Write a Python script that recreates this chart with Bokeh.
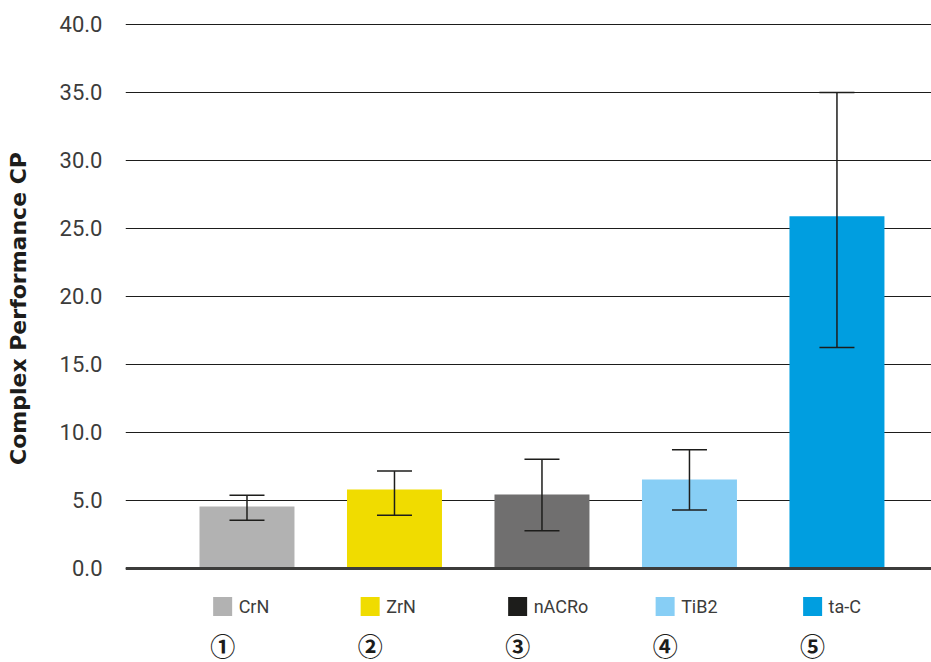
from bokeh.plotting import figure
from bokeh.models import Range1d, FixedTicker, PrintfTickFormatter, Whisker, TeeHead, Span, ColumnDataSource
from bokeh.layouts import column
from bokeh.embed import file_html
from bokeh.resources import INLINE
from bokeh.core.properties import value

# ---- data ----
categories = ["CrN", "ZrN", "nACRo", "TiB2", "ta-C"]
cp_mean = [4.56, 5.81, 5.44, 6.54, 25.9]
cp_lower = [3.55, 3.92, 2.77, 4.31, 16.25]
cp_upper = [5.39, 7.16, 8.04, 8.73, 35.0]
bar_colors = ["#b2b2b2", "#f0dc00", "#706f6f", "#87cef5", "#009ee0"]
legend_colors = ["#b2b2b2", "#f0dc00", "#1d1d1b", "#87cef5", "#009ee0"]
markers = ["\u2460", "\u2461", "\u2462", "\u2463", "\u2464"]
y_ticks = [0, 5, 10, 15, 20, 25, 30, 35, 40]

xs = list(range(len(categories)))
x_range = Range1d(-0.8237, 4.641)

# ---- main chart ----
p = figure(width=931, height=594, x_range=x_range, y_range=Range1d(-1.912, 40.147),
           output_backend="svg", toolbar_location=None, x_axis_location=None,
           min_border_left=125, min_border_right=0, min_border_top=22, min_border_bottom=0)
p.outline_line_color = None
p.xgrid.visible = False

ax = p.yaxis[0]
ax.ticker = FixedTicker(ticks=y_ticks)
ax.formatter = PrintfTickFormatter(format="%.1f")
ax.major_tick_line_color = None
ax.minor_tick_line_color = None
ax.major_tick_in = 0
ax.major_tick_out = 0
ax.minor_tick_in = 0
ax.minor_tick_out = 0
ax.axis_line_color = None
ax.major_label_text_font = "Roboto"
ax.major_label_text_font_size = "22px"
ax.major_label_text_color = "#3c3c3b"
ax.major_label_standoff = 23
ax.axis_label = "Complex Performance CP"
ax.axis_label_text_font = "DejaVu Sans"
ax.axis_label_text_font_style = "bold"
ax.axis_label_text_font_size = "22px"
ax.axis_label_text_color = "#1d1d1b"
ax.axis_label_standoff = 26

p.ygrid.grid_line_color = "#1d1d1b"
p.ygrid.grid_line_width = 1.2

p.vbar(x=xs, top=cp_mean, bottom=0, width=0.644, fill_color=bar_colors, line_color=None)

src = ColumnDataSource(dict(x=xs, lower=cp_lower, upper=cp_upper))
p.add_layout(Whisker(base="x", lower="lower", upper="upper", source=src, level="overlay",
                     line_color="#1d1d1b", line_width=1.5,
                     upper_head=TeeHead(size=35, line_color="#1d1d1b", line_width=1.5),
                     lower_head=TeeHead(size=35, line_color="#1d1d1b", line_width=1.5)))
p.add_layout(Span(location=0, dimension="width", line_color="#3c3c3b", line_width=3))

# ---- legend strip ----
p2 = figure(width=931, height=68, x_range=x_range, y_range=Range1d(0, 68),
            output_backend="svg", toolbar_location=None,
            x_axis_location=None, y_axis_location=None,
            min_border_left=125, min_border_right=0, min_border_top=0, min_border_bottom=0)
p2.outline_line_color = None
p2.grid.visible = False

legend_x = [x - 0.165 for x in xs]
p2.scatter(x=legend_x, y=[56] * len(xs), marker="square", size=19,
           fill_color=legend_colors, line_color=None)
p2.text(x=legend_x, y=[56] * len(xs), text=categories, x_offset=16,
        text_align="left", text_baseline="middle", text_font=value("Roboto"),
        text_font_size="18px", text_color="#3c3c3b")
p2.text(x=legend_x, y=[18] * len(xs), text=markers, text_align="center",
        text_baseline="middle", text_font=value("Noto Sans CJK JP"),
        text_font_size="25px", text_font_style="bold", text_color="#1d1d1b")

layout = column(p, p2, spacing=0)
open("out.html", "w").write(file_html(layout, INLINE))
